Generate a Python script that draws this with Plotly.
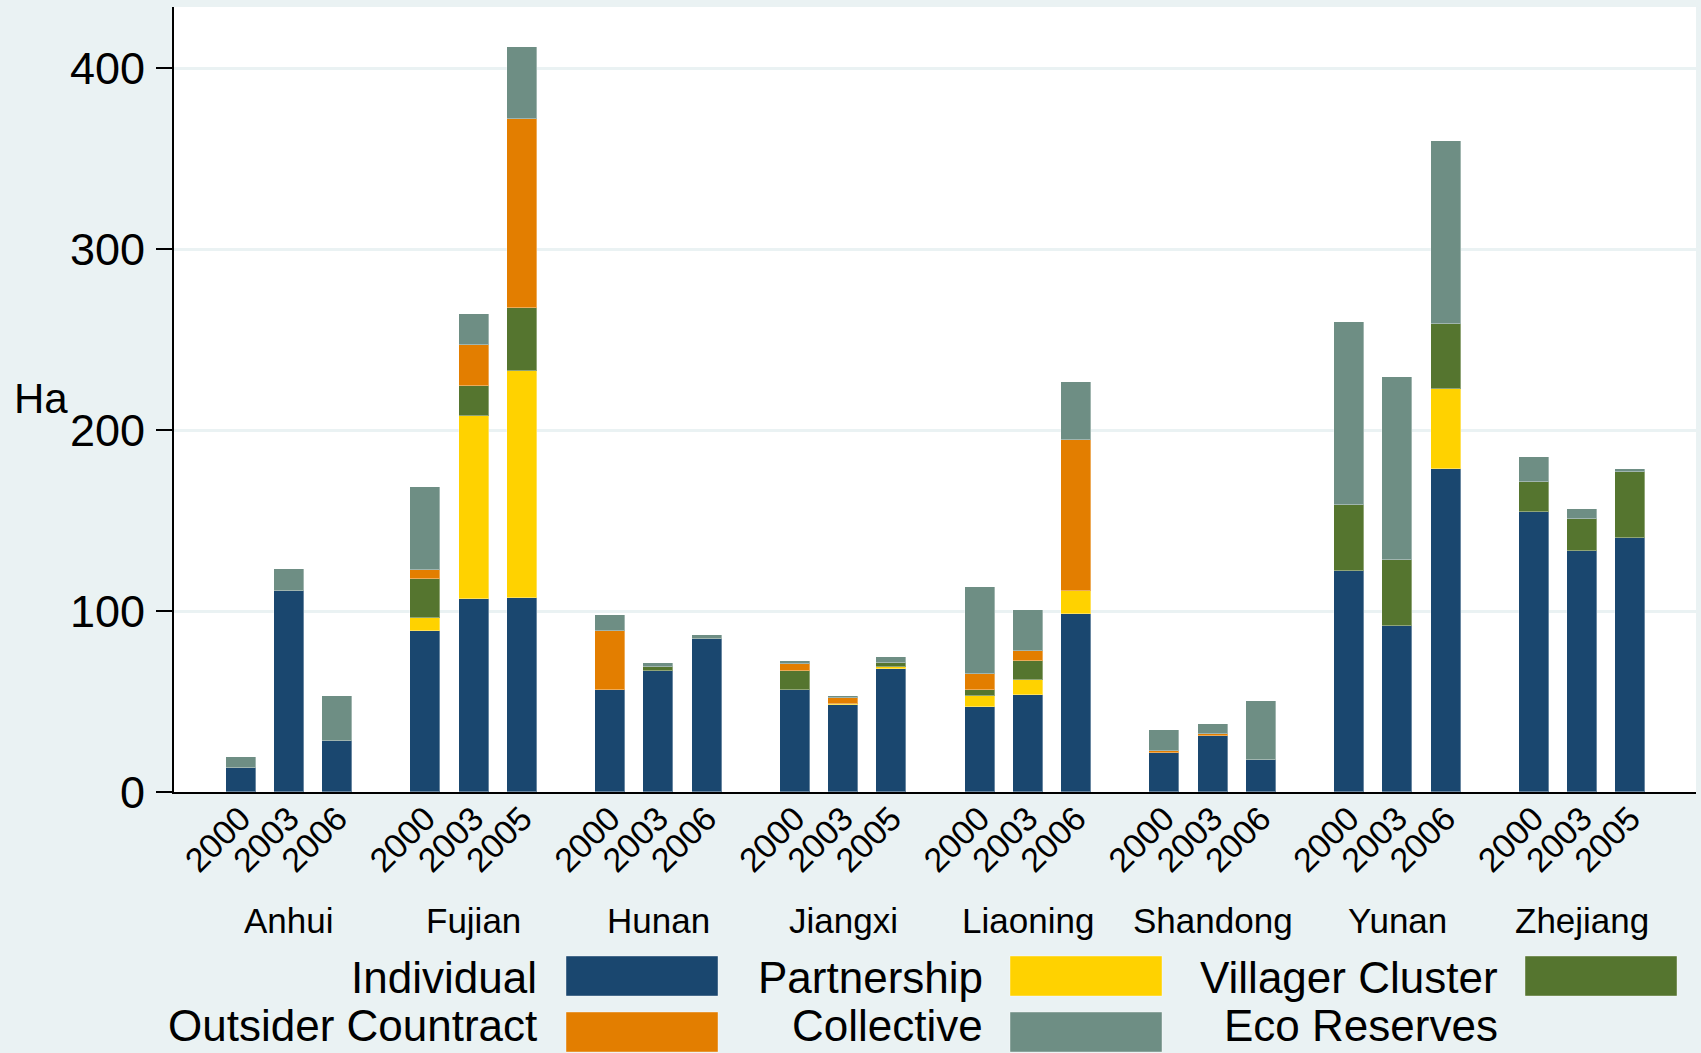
import plotly.graph_objects as go

provinces = ["Anhui", "Fujian", "Hunan", "Jiangxi", "Liaoning", "Shandong", "Yunan", "Zhejiang"]
years = [["2000", "2003", "2006"], ["2000", "2003", "2005"], ["2000", "2003", "2006"],
         ["2000", "2003", "2005"], ["2000", "2003", "2006"], ["2000", "2003", "2006"],
         ["2000", "2003", "2006"], ["2000", "2003", "2005"]]

individual = [13.0, 111.2, 28.0, 89.0, 106.9, 107.4, 56.6, 66.7, 84.6, 56.6, 47.9, 67.9,
              46.8, 53.4, 98.2, 21.7, 31.2, 17.9, 121.9, 91.6, 178.5, 154.5, 133.4, 140.4]
partnership = [0, 0, 0, 7.2, 101.1, 125.1, 0, 0, 0, 0, 0.6, 1.1,
               6.3, 8.4, 12.7, 0, 0, 0, 0, 0, 43.9, 0, 0, 0]
villager = [0, 0, 0, 21.6, 16.5, 34.9, 0, 2.6, 0, 10.1, 0, 2.0,
            3.2, 10.4, 0, 0, 0, 0, 36.7, 36.6, 36.1, 16.8, 17.6, 36.6]
outsider = [0, 0, 0, 4.6, 22.2, 104.3, 32.4, 0, 0, 3.8, 3.5, 0,
            8.7, 5.5, 83.8, 0.8, 0.9, 0, 0, 0, 0, 0, 0, 0]
collective = [6.4, 11.8, 24.9, 46.2, 17.6, 39.9, 8.6, 2.0, 2.0, 2.0, 1.1, 3.8,
              48.2, 23.1, 31.7, 11.6, 5.2, 32.6, 101.0, 101.1, 101.1, 13.8, 5.2, 1.2]
eco_reserves = [0] * 24

series_names = ["Individual", "Partnership", "Villager Cluster", "Outsider Countract", "Collective", "Eco Reserves"]
series_values = [individual, partnership, villager, outsider, collective, eco_reserves]
series_colors = ["#1A476F", "#FFD200", "#55752F", "#E37E00", "#6E8E84", "rgba(0,0,0,0)"]

# layout geometry (pixels)
W, H = 1701, 1053
PL, PR, PT, PB = 174, 1696, 7, 792
GROUP_STEP = 3.825
x_pos = []
for g in range(len(provinces)):
    for j in range(3):
        x_pos.append(g * GROUP_STEP + j)
tick_text = [y for grp in years for y in grp]

FONT = "Liberation Sans, Arial, sans-serif"

fig = go.Figure()
for name, vals, col in zip(series_names, series_values, series_colors):
    fig.add_trace(go.Bar(
        x=x_pos, y=vals, name=name, width=0.62,
        marker=dict(color=col, line=dict(width=1, color="rgba(255,255,255,0.35)")),
        showlegend=False,
    ))

unit_px = 48.5
x0 = -(241 - PL) / unit_px
x1 = x_pos[-1] + (PR - 1630) / unit_px

def px_to_paper_x(X):
    return (X - PL) / (PR - PL)

def px_to_paper_y(Y):
    return (PB - Y) / (PB - PT)

fig.update_layout(
    width=W, height=H,
    barmode="stack",
    paper_bgcolor="#EAF2F3",
    plot_bgcolor="#FFFFFF",
    margin=dict(l=PL, r=W - PR, t=PT, b=H - PB, pad=0),
    font=dict(family=FONT, color="#000000"),
    bargap=0,
)
fig.update_xaxes(
    range=[x0, x1], tickmode="array", tickvals=x_pos, ticktext=tick_text,
    tickangle=-45, tickfont=dict(size=34, family=FONT), ticks="",
    showline=True, linecolor="#000000", linewidth=2, showgrid=False, zeroline=False,
    ticklabelstandoff=-9,
)
fig.update_yaxes(
    range=[0, 433.7], tickmode="array", tickvals=[0, 100, 200, 300, 400],
    ticktext=["0", "100", "200", "300", "400"], tickfont=dict(size=45, family=FONT),
    ticks="outside", ticklen=16, tickwidth=2, tickcolor="#000000",
    showline=True, linecolor="#000000", linewidth=2,
    showgrid=True, gridcolor="#EAF2F3", gridwidth=3, zeroline=False,
    ticklabelstandoff=2,
)

annotations = []
# y axis title
annotations.append(dict(text="Ha", x=px_to_paper_x(41), y=px_to_paper_y(398), xref="paper", yref="paper",
                        showarrow=False, font=dict(size=42, family=FONT), xanchor="center", yanchor="middle"))
# province labels
for g, p in enumerate(provinces):
    annotations.append(dict(text=p, x=g * GROUP_STEP + 1, y=px_to_paper_y(920), xref="x", yref="paper",
                            showarrow=False, font=dict(size=35, family=FONT), xanchor="center", yanchor="middle"))

# custom legend (Stata style: label then swatch)
legend_cols = [(539, 566), (985, 1010), (1500, 1525)]
legend_rows = [(956, 996), (1012, 1052)]
shapes = []
for i, (name, col) in enumerate(zip(series_names, series_colors)):
    r, c = divmod(i, 3)
    text_right, sw_left = legend_cols[c]
    top, bot = legend_rows[r]
    if r == 0:
        ty, yanc = px_to_paper_y((top + bot) / 2 + 1), "middle"
    else:
        ty, yanc = px_to_paper_y(1052), "bottom"
    annotations.append(dict(text=name, x=px_to_paper_x(text_right), y=ty,
                            xref="paper", yref="paper", showarrow=False,
                            font=dict(size=44, family=FONT), xanchor="right", yanchor=yanc))
    if col != "rgba(0,0,0,0)":
        shapes.append(dict(type="rect", xref="paper", yref="paper",
                           x0=px_to_paper_x(sw_left), x1=px_to_paper_x(sw_left + 152),
                           y0=px_to_paper_y(bot), y1=px_to_paper_y(top),
                           fillcolor=col, line=dict(width=1, color="rgba(255,255,255,0.4)"), layer="above"))

fig.update_layout(annotations=annotations, shapes=shapes)
fig.write_html(
    "out.html",
    config={"displayModeBar": False},
    post_script="document.body.style.margin='0';document.body.style.background='#EAF2F3';",
)
